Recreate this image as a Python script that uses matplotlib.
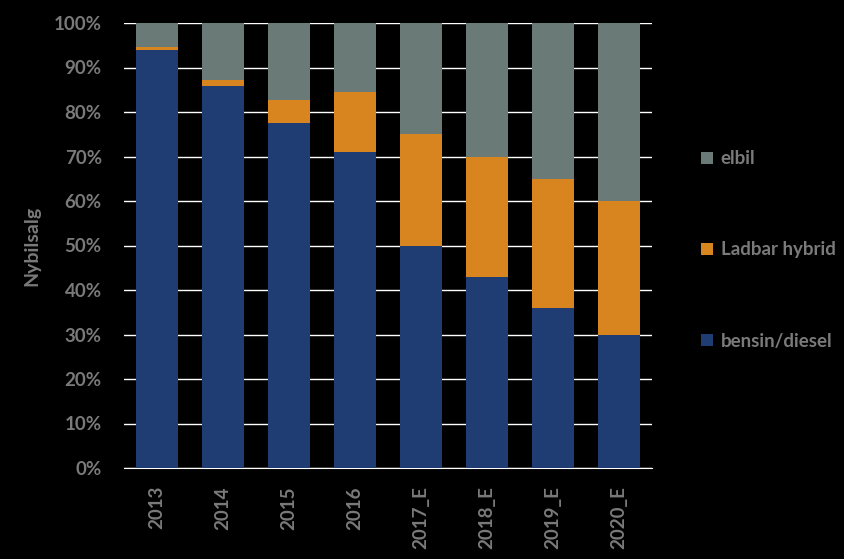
import matplotlib.pyplot as plt
import numpy as np

years = ['2013', '2014', '2015', '2016', '2017_E', '2018_E', '2019_E', '2020_E']
bensin = [93.9, 85.9, 77.6, 70.9, 50.0, 43.0, 36.0, 30.0]
hybrid = [0.6, 1.4, 5.2, 13.5, 25.0, 27.0, 29.0, 30.0]
elbil = [100 - b - h for b, h in zip(bensin, hybrid)]

blue = '#1F3C73'
orange = '#D8841F'
grey = '#6A7A77'
txt = '#7A7A7A'

plt.rcParams['font.family'] = ['Lato', 'DejaVu Sans']
fig = plt.figure(figsize=(8.44, 5.59), dpi=100, facecolor='black')
ax = fig.add_axes([124 / 844, 1 - 468 / 559, 528 / 844, 445 / 559], facecolor='black')

x = np.arange(len(years))
w = 0.64
b1 = ax.bar(x, bensin, w, color=blue, label='bensin/diesel', zorder=3)
b2 = ax.bar(x, hybrid, w, bottom=bensin, color=orange, label='Ladbar hybrid', zorder=3)
b3 = ax.bar(x, elbil, w, bottom=np.array(bensin) + np.array(hybrid), color=grey,
            label='elbil', zorder=3)

ax.set_xlim(-0.5, len(years) - 0.5)
ax.set_ylim(0, 100)
ax.set_yticks(np.arange(0, 101, 10))
ax.set_yticklabels([f'{v}%' for v in range(0, 101, 10)])
ax.set_xticks(x)
ax.set_xticklabels(years, rotation=90)
ax.grid(axis='y', color='white', linewidth=1, zorder=0)
ax.set_axisbelow(True)

for s in ['top', 'right', 'left']:
    ax.spines[s].set_visible(False)
ax.spines['bottom'].set_color('white')
ax.tick_params(axis='both', length=0, colors=txt, labelsize=13.5)
ax.tick_params(axis='y', pad=16)
ax.tick_params(axis='x', pad=13)
for lbl in ax.get_xticklabels() + ax.get_yticklabels():
    lbl.set_fontweight('bold')

ax.set_ylabel('Nybilsalg', color=txt, fontsize=14, fontweight='bold', labelpad=10)

leg = fig.legend(handles=[b3, b2, b1], loc='center left', bbox_to_anchor=(684 / 844, 1 - 250 / 559),
                 frameon=False, labelspacing=3.95, handlelength=0.65, handleheight=0.65,
                 handletextpad=0.4, prop={'size': 13.5, 'weight': 'bold'})
for t in leg.get_texts():
    t.set_color(txt)

fig.savefig('out.png', dpi=100, facecolor='black')
